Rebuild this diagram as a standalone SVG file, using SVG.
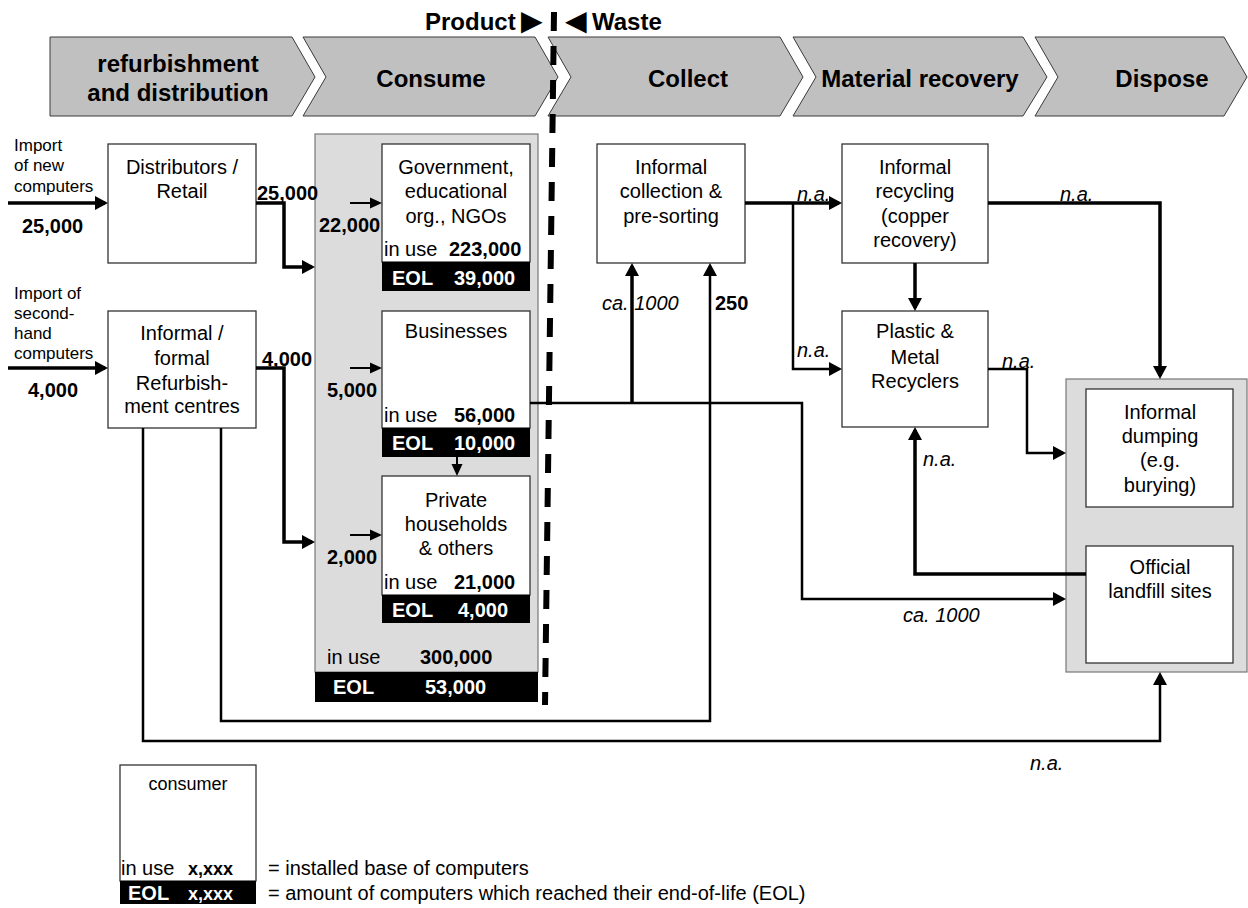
<svg xmlns="http://www.w3.org/2000/svg" width="1248" height="908" viewBox="0 0 1248 908">
<style>
text{font-family:"Liberation Sans",Arial,Helvetica,sans-serif;fill:#000}
.f20{font-size:20px}
.f17{font-size:17px}
.f18{font-size:18px}
.hd{font-size:24px;font-weight:bold}
.tri{font-size:36px}
.b{font-weight:bold}
.i{font-style:italic}
.w{fill:#fff}
.m{text-anchor:middle}
.chev{fill:#c0c0c0;stroke:#3a3a3a;stroke-width:1}
.box{fill:#fff;stroke:#333;stroke-width:1.3}
.grp{fill:#dcdcdc;stroke:#777;stroke-width:1.2}
.bar{fill:#000}
.c{fill:none;stroke:#000;stroke-width:3.5}
.c2{fill:none;stroke:#000;stroke-width:2.5}
.cs{fill:none;stroke:#000;stroke-width:2}
.ah{marker-end:url(#ah)}
.as{marker-end:url(#as)}
</style>
<defs>
<marker id="ah" markerUnits="userSpaceOnUse" viewBox="0 0 13 14" markerWidth="13" markerHeight="14" refX="10" refY="7" orient="auto"><path d="M0,0 L13,7 L0,14 z" fill="#000"/></marker>
<marker id="as" markerUnits="userSpaceOnUse" viewBox="0 0 12 12" markerWidth="12" markerHeight="12" refX="10" refY="6" orient="auto"><path d="M0,0.5 L12,6 L0,11.5 z" fill="#000"/></marker>
</defs>

<g id="stages">
<polygon class="chev" points="50,37 292,37 315,77 292,116 50,116"/>
<polygon class="chev" points="303,37 535,37 558,77 535,116 303,116 326,77"/>
<polygon class="chev" points="548,37 780,37 803,77 780,116 548,116 571,77"/>
<polygon class="chev" points="793,37 1023,37 1047,77 1023,116 793,116 816,77"/>
<polygon class="chev" points="1035,37 1224,37 1247,77 1224,116 1035,116 1058,77"/>
<text class="hd m" x="178" y="72">refurbishment</text>
<text class="hd m" x="178" y="101">and distribution</text>
<text class="hd m" x="431" y="87">Consume</text>
<text class="hd m" x="688" y="87">Collect</text>
<text class="hd m" x="920" y="87">Material recovery</text>
<text class="hd m" x="1162" y="87">Dispose</text>
</g>

<g id="header">
<text class="hd" x="425" y="30">Product</text>
<text class="tri" x="514" y="33">►</text>
<text class="tri" x="558" y="33">◄</text>
<text class="hd" x="592" y="30">Waste</text>
</g>

<g id="boundary">
<line x1="554" y1="12" x2="545" y2="705" stroke="#000" stroke-width="6" stroke-dasharray="19 15"/>
</g>

<g id="inputs">
<text class="f17" x="14" y="151">Import</text>
<text class="f17" x="14" y="171">of new</text>
<text class="f17" x="14" y="192">computers</text>
<text class="f20 b" x="22" y="233">25,000</text>
<text class="f17" x="14" y="299">Import of</text>
<text class="f17" x="14" y="319">second-</text>
<text class="f17" x="14" y="339">hand</text>
<text class="f17" x="14" y="359">computers</text>
<text class="f20 b" x="28" y="397">4,000</text>
</g>

<g id="distributors">
<rect class="box" x="108" y="144" width="148" height="119"/>
<text class="f20 m" x="182" y="174">Distributors /</text>
<text class="f20 m" x="182" y="198">Retail</text>
</g>

<g id="refurbishment">
<rect class="box" x="108" y="311" width="148" height="117"/>
<text class="f20 m" x="182" y="340">Informal /</text>
<text class="f20 m" x="182" y="365">formal</text>
<text class="f20 m" x="182" y="390">Refurbish-</text>
<text class="f20 m" x="182" y="413">ment centres</text>
</g>

<g id="consumers">
<rect class="grp" x="315" y="134" width="223" height="538"/>
<rect class="bar" x="315" y="672" width="223" height="30"/>
<text class="f20" x="327" y="664">in use</text>
<text class="f20 b" x="420" y="664">300,000</text>
<text class="f20 b w" x="333" y="694">EOL</text>
<text class="f20 b w" x="425" y="694">53,000</text>
</g>

<g id="government">
<rect class="box" x="382" y="144" width="148" height="118"/>
<rect class="bar" x="382" y="262" width="148" height="29"/>
<text class="f20 m" x="456" y="174">Government,</text>
<text class="f20 m" x="456" y="198">educational</text>
<text class="f20 m" x="456" y="223">org., NGOs</text>
<text class="f20" x="384" y="256">in use</text>
<text class="f20 b" x="449" y="256">223,000</text>
<text class="f20 b w" x="392" y="285">EOL</text>
<text class="f20 b w" x="454" y="285">39,000</text>
</g>

<g id="businesses">
<rect class="box" x="382" y="311" width="148" height="117"/>
<rect class="bar" x="382" y="428" width="148" height="29"/>
<text class="f20 m" x="456" y="338">Businesses</text>
<text class="f20" x="384" y="422">in use</text>
<text class="f20 b" x="454" y="422">56,000</text>
<text class="f20 b w" x="392" y="450">EOL</text>
<text class="f20 b w" x="454" y="450">10,000</text>
</g>

<g id="households">
<rect class="box" x="382" y="476" width="148" height="119"/>
<rect class="bar" x="382" y="595" width="148" height="28"/>
<text class="f20 m" x="456" y="507">Private</text>
<text class="f20 m" x="456" y="531">households</text>
<text class="f20 m" x="456" y="555">&amp; others</text>
<text class="f20" x="384" y="589">in use</text>
<text class="f20 b" x="454" y="589">21,000</text>
<text class="f20 b w" x="392" y="617">EOL</text>
<text class="f20 b w" x="458" y="617">4,000</text>
</g>

<g id="collection">
<rect class="box" x="597" y="144" width="148" height="119"/>
<text class="f20 m" x="671" y="174">Informal</text>
<text class="f20 m" x="671" y="198">collection &amp;</text>
<text class="f20 m" x="671" y="223">pre-sorting</text>
</g>

<g id="recycling">
<rect class="box" x="842" y="144" width="146" height="119"/>
<text class="f20 m" x="915" y="174">Informal</text>
<text class="f20 m" x="915" y="198">recycling</text>
<text class="f20 m" x="915" y="223">(copper</text>
<text class="f20 m" x="915" y="247">recovery)</text>
</g>

<g id="plastic-metal">
<rect class="box" x="842" y="311" width="146" height="116"/>
<text class="f20 m" x="915" y="338">Plastic &amp;</text>
<text class="f20 m" x="915" y="364">Metal</text>
<text class="f20 m" x="915" y="388">Recyclers</text>
</g>

<g id="dispose">
<rect class="grp" x="1066" y="379" width="181" height="293"/>
</g>

<g id="dumping">
<rect class="box" x="1086" y="389" width="147" height="118"/>
<text class="f20 m" x="1160" y="419">Informal</text>
<text class="f20 m" x="1160" y="443">dumping</text>
<text class="f20 m" x="1160" y="467">(e.g.</text>
<text class="f20 m" x="1160" y="492">burying)</text>
</g>

<g id="landfill">
<rect class="box" x="1086" y="546" width="147" height="117"/>
<text class="f20 m" x="1160" y="574">Official</text>
<text class="f20 m" x="1160" y="598">landfill sites</text>
</g>

<g id="connectors">
<path class="c ah" d="M8,203 H105"/>
<path class="c ah" d="M8,368 H105"/>
<path class="c ah" d="M256,203 H284 V267 H312"/>
<path class="c ah" d="M256,368 H284 V542 H312"/>
<path class="cs as" d="M350,203 H380"/>
<path class="cs as" d="M350,368 H380"/>
<path class="cs as" d="M350,535 H380"/>
<path class="cs as" d="M457,457 V474"/>
<path class="c2 ah" d="M530,403 H802 V599 H1063"/>
<path class="c ah" d="M632,403 V266"/>
<path class="c2 ah" d="M221,428 V721 H710 V266"/>
<path class="c2 ah" d="M143,428 V741 H1160 V675"/>
<path class="c ah" d="M745,203 H839"/>
<path class="c2 ah" d="M793,203 V369 H839"/>
<path class="c ah" d="M915,263 V308"/>
<path class="c ah" d="M988,203 H1160 V376"/>
<path class="c2 ah" d="M988,369 H1027 V453 H1063"/>
<path class="c ah" d="M1086,574 H915 V430"/>
</g>

<g id="labels">
<text class="f20 b" x="257" y="200">25,000</text>
<text class="f20 b" x="262" y="366">4,000</text>
<text class="f20 b" x="319" y="232">22,000</text>
<text class="f20 b" x="327" y="397">5,000</text>
<text class="f20 b" x="327" y="564">2,000</text>
<text class="f20 i" x="602" y="310">ca. 1000</text>
<text class="f20 b" x="715" y="310">250</text>
<text class="f20 i" x="797" y="201">n.a.</text>
<text class="f20 i" x="797" y="357">n.a.</text>
<text class="f20 i" x="1060" y="201">n.a.</text>
<text class="f20 i" x="1002" y="368">n.a.</text>
<text class="f20 i" x="923" y="466">n.a.</text>
<text class="f20 i" x="903" y="622">ca. 1000</text>
<text class="f20 i" x="1030" y="770">n.a.</text>
</g>

<g id="legend">
<rect class="box" x="120" y="765" width="136" height="116"/>
<rect class="bar" x="120" y="881" width="136" height="23"/>
<text class="f18 m" x="188" y="790">consumer</text>
<text class="f20" x="121" y="875">in use</text>
<text class="f18 b" x="188" y="875">x,xxx</text>
<text class="f20 b w" x="128" y="900">EOL</text>
<text class="f18 b w" x="188" y="900">x,xxx</text>
<text class="f20" x="268" y="875">= installed base of computers</text>
<text class="f20" x="268" y="900">= amount of computers which reached their end-of-life (EOL)</text>
</g>
</svg>
